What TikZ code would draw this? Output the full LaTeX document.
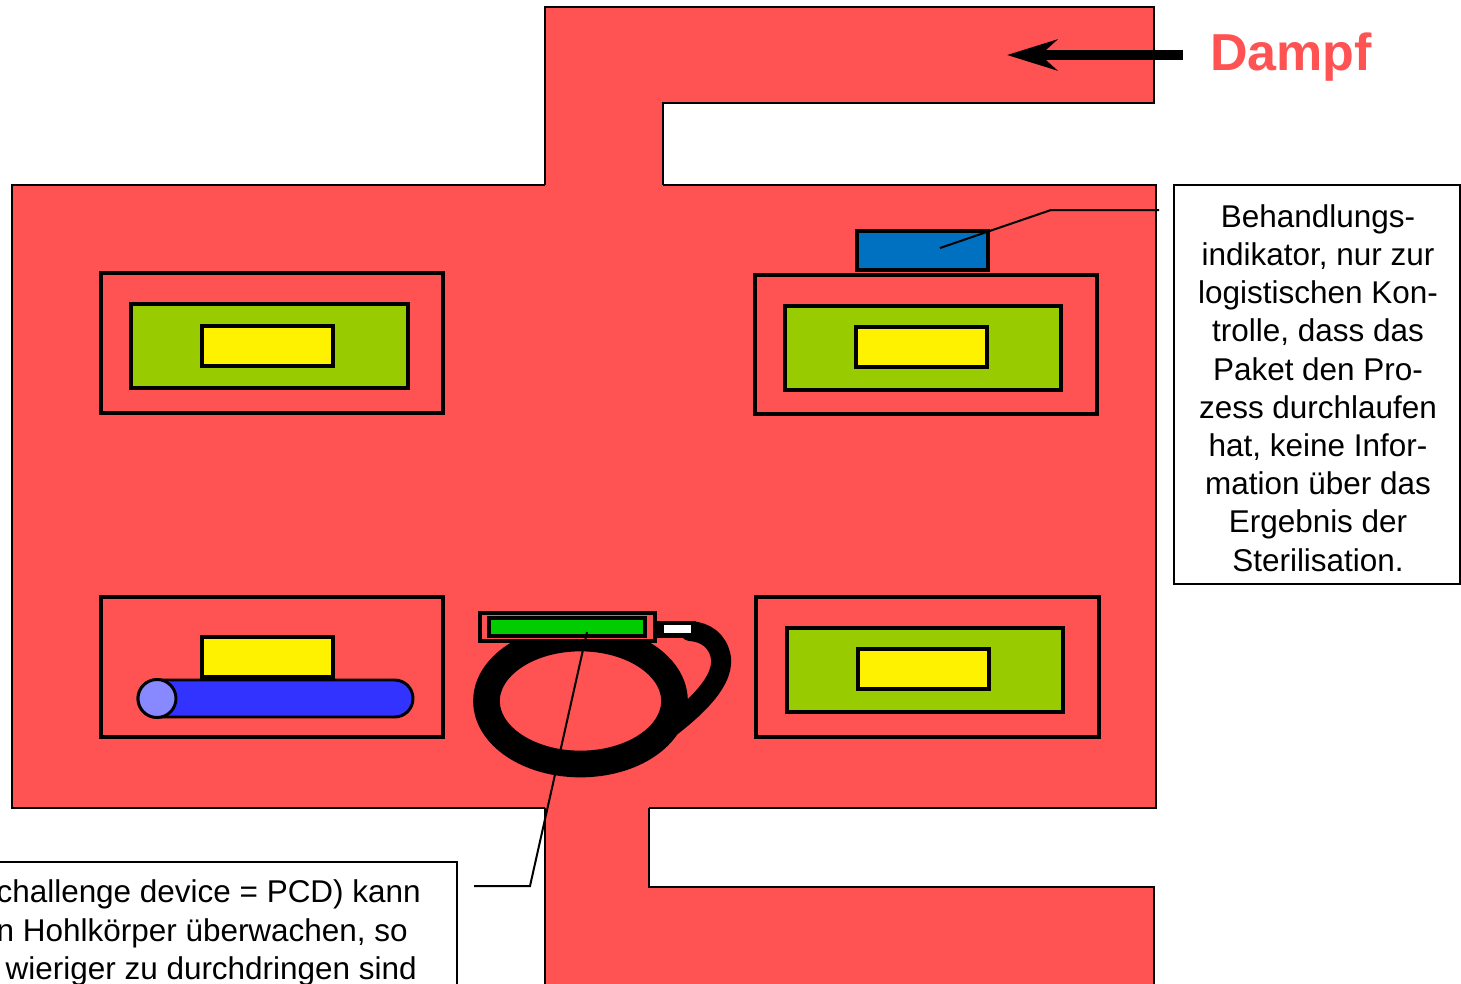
\documentclass[tikz,border=0pt]{standalone}
\usepackage{fontspec}
\setmainfont{Liberation Sans}
\usetikzlibrary{arrows.meta,fit,calc}
\definecolor{steam}{RGB}{255,82,82}
\definecolor{wrapgreen}{RGB}{153,204,0}
\definecolor{labelblue}{RGB}{0,112,192}
\definecolor{tubeblue}{RGB}{51,51,255}
\definecolor{tubeend}{RGB}{136,136,255}
\definecolor{stripgreen}{RGB}{0,204,0}

\begin{document}
\begin{tikzpicture}[x=0.75pt,y=-0.75pt,
  wall/.style={line width=1.9pt, line join=miter},
  tray/.style={draw, line width=3.4pt, fill=steam, inner sep=0pt},
  wrapper/.style={draw, line width=3pt, fill=wrapgreen, inner sep=0pt},
  item/.style={draw, line width=3pt, fill=yellow, inner sep=0pt},
  leader/.style={line width=1.5pt},
  note/.style={draw, line width=1.4pt, fill=white, inner sep=0pt, align=center,
    font=\fontsize{23.6pt}{28.65pt}\selectfont},
  notetext/.style={inner sep=0pt, anchor=base east, font=\fontsize{23.6pt}{28.3pt}\selectfont},
]
\useasboundingbox (0,0) rectangle (1461,983);
\clip (0,0) rectangle (1461,983);
\fill[white] (0,0) rectangle (1461,983);

% sterilizer chamber with steam inlet (top) and outlet (bottom)
\fill[steam] (12,185) rectangle (1156,808);
\fill[steam] (545,187) -- (545,7) -- (1154,7) -- (1154,103) -- (663,103) -- (663,187) -- cycle;
\fill[steam] (545,806) -- (545,995) -- (1154,995) -- (1154,887) -- (649,887) -- (649,806) -- cycle;

\draw[wall] (545,185) -- (12,185) -- (12,808) -- (545,808);
\draw[wall] (649,808) -- (1156,808) -- (1156,185) -- (663,185);
\draw[wall] (545,185) -- (545,7) -- (1154,7) -- (1154,103) -- (663,103) -- (663,185);
\draw[wall] (545,808) -- (545,995);
\draw[wall] (649,808) -- (649,887) -- (1154,887) -- (1154,995);

% steam label and flow arrow
\node[anchor=base west, inner sep=0pt, text=steam,
      font=\fontsize{39pt}{47pt}\selectfont\bfseries] (dampf) at (1210,70) {Dampf};
\coordinate (steamin) at (1183,55);
\coordinate (steamtip) at (1007,55);
\draw[line width=6.8pt, -{Stealth[length=37.5pt, width=23pt, inset=12.5pt]}] (steamin) -- (steamtip);

% top left package
\node[tray, fit={(101,273) (443,413)}] (pkgA) {};
\node[wrapper, fit={(131,304) (408,388)}] (wrapA) {};
\node[item, fit={(202,326) (333,366)}] (itemA) {};

% top right package with treatment indicator
\node[tray, fit={(755,275) (1097,414)}] (pkgB) {};
\node[wrapper, fit={(785,306) (1061,390)}] (wrapB) {};
\node[item, fit={(856,327) (987,367)}] (itemB) {};
\node[draw, line width=3pt, fill=labelblue, inner sep=0pt, fit={(857,231) (988,270)}] (indicator) {};

% bottom right package
\node[tray, fit={(756,597) (1099,737)}] (pkgD) {};
\node[wrapper, fit={(787,628) (1063,712)}] (wrapD) {};
\node[item, fit={(858,649) (989,689)}] (itemD) {};

% bottom left package with hollow instrument
\node[tray, fit={(101,597) (443,737)}] (pkgC) {};
\node[item, fit={(202,637) (333,677)}] (itemC) {};
\draw[line width=2.2pt, fill=tubeblue, rounded corners=13.8pt] (138,680) rectangle (413,717);
\draw[line width=2.2pt, fill=tubeend] (157,698.5) circle [radius=19];

% process challenge device: coiled tube with indicator capsule
\draw[line width=20pt] (580.5,701) ellipse [x radius=94, y radius=63];
\draw[line width=15pt, line cap=round] (635,752) .. controls (690,716) and (724,684) .. (721,658)
  .. controls (718,640) and (705,632) .. (690,631);
\node[tray, line width=2.4pt, fit={(480,613) (655,641)}] (pcd) {};
\node[draw, line width=2.4pt, fill=stripgreen, inner sep=0pt, fit={(489,618) (645,636)}] (strip) {};
\node[fill=black, inner sep=0pt, fit={(657,621) (696,638)}] (plug) {};
\node[fill=white, inner sep=0pt, fit={(664,625) (691,633)}] (plugslot) {};

% annotation boxes
\node[note, minimum width=214.5pt, minimum height=299.25pt] (info) at (1317,384.5) {};
\node[align=center, inner sep=0pt, font=\fontsize{23.6pt}{28.65pt}\selectfont] (infotext) at (1318,388)
  {Behandlungs-\\indikator, nur zur\\logistischen Kon-\\trolle, dass das\\Paket den Pro-\\zess durchlaufen\\hat, keine Infor-\\mation über das\\Ergebnis der\\Sterilisation.};

\node[note, minimum width=357.75pt, minimum height=111pt] (pcdnote) at (218.5,936) {};
\node[notetext] (pcdline1) at (421,902) {challenge device = PCD) kann};
\node[notetext] (pcdline2) at (408,941) {n Hohlkörper überwachen, so};
\node[notetext] (pcdline3) at (417,979) {wieriger zu durchdringen sind};

% leader lines
\coordinate (indtip) at (940,248);
\coordinate (indbend) at (1051,210);
\coordinate (indend) at (1159,210);
\draw[leader] (indtip) -- (indbend) -- (indend);

\coordinate (striptip) at (587,632);
\coordinate (pcdbend) at (530,886);
\coordinate (pcdend) at (474,886);
\draw[leader] (striptip) -- (pcdbend) -- (pcdend);
\end{tikzpicture}
\end{document}
